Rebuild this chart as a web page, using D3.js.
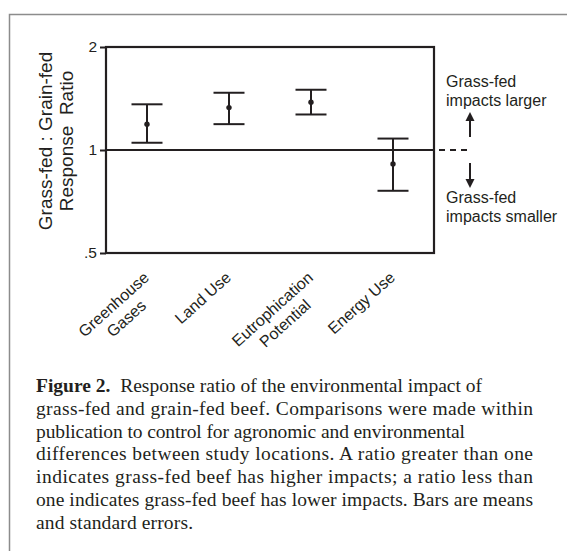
<!DOCTYPE html>
<html>
<head>
<meta charset="utf-8">
<script src="https://cdn.jsdelivr.net/npm/d3@7"></script>
<style>
  body { margin: 0; background: #fff; }
  svg { display: block; }
</style>
</head>
<body>
<svg></svg>
<script>
// chart values
var categories = ["Greenhouse Gases", "Land Use", "Eutrophication Potential", "Energy Use"];
var labelLines = [["Greenhouse", "Gases"], ["Land Use"], ["Eutrophication", "Potential"], ["Energy Use"]];
var means = [1.19, 1.33, 1.38, 0.91];
var lower = [1.05, 1.19, 1.27, 0.76];
var upper = [1.36, 1.47, 1.50, 1.08];
var yTicks = [0.5, 1, 2];
var yTickLabels = [".5", "1", "2"];
var captionLines = [
  "Response ratio of the environmental impact of",
  "grass-fed and grain-fed beef. Comparisons were made within",
  "publication to control for agronomic and environmental",
  "differences between study locations. A ratio greater than one",
  "indicates grass-fed beef has higher impacts; a ratio less than",
  "one indicates grass-fed beef has lower impacts. Bars are means",
  "and standard errors."
];
// measured width of each caption line in the figure
var captionWidths = [446, 497, 429, 497, 497, 497, 157];

var width = 567, height = 551;
var ink = "#231f20";
var sans = "'Liberation Sans', Arial, sans-serif";
var serif = "'Liberation Serif', 'Times New Roman', serif";

var svg = d3.select("svg")
    .attr("width", width)
    .attr("height", height);

// outer box (open on right and bottom, cropped)
svg.append("path")
    .attr("d", "M9.5," + height + "V14.5H" + width)
    .attr("fill", "none")
    .attr("stroke", "#8c8c8c")
    .attr("stroke-width", 1.5);

var plot = {left: 106, right: 434, top: 47, bottom: 253};

var x = d3.scalePoint()
    .domain(categories)
    .range([plot.left, plot.right])
    .padding(0.5);

var y = d3.scaleLog()
    .domain([0.5, 2])
    .range([plot.bottom, plot.top]);

// y axis ticks
var yAxis = d3.axisLeft(y)
    .tickValues(yTicks)
    .tickFormat(function(d, i) { return yTickLabels[i]; })
    .tickSize(6)
    .tickSizeOuter(0)
    .tickPadding(3);

var ga = svg.append("g")
    .attr("transform", "translate(" + plot.left + ",0)")
    .call(yAxis);
ga.select(".domain").remove();
ga.selectAll("line").attr("stroke", ink).attr("stroke-width", 2);
ga.selectAll("text")
    .attr("fill", ink)
    .style("font-family", sans)
    .style("font-size", "15.5px");

// frame
svg.append("rect")
    .attr("x", plot.left)
    .attr("y", plot.top)
    .attr("width", plot.right - plot.left)
    .attr("height", plot.bottom - plot.top)
    .attr("fill", "none")
    .attr("stroke", ink)
    .attr("stroke-width", 2.2);

// reference line at 1
svg.append("line")
    .attr("x1", plot.left).attr("x2", plot.right)
    .attr("y1", y(1)).attr("y2", y(1))
    .attr("stroke", ink).attr("stroke-width", 2.2);
svg.append("line")
    .attr("x1", plot.right + 5).attr("x2", plot.right + 35)
    .attr("y1", y(1)).attr("y2", y(1))
    .attr("stroke", ink).attr("stroke-width", 2)
    .attr("stroke-dasharray", "6,5");

// error bars
var bars = svg.append("g").selectAll("g")
    .data(categories)
    .enter().append("g");

var cap = 15.5;
bars.append("line")
    .attr("x1", function(d) { return x(d); })
    .attr("x2", function(d) { return x(d); })
    .attr("y1", function(d, i) { return y(lower[i]); })
    .attr("y2", function(d, i) { return y(upper[i]); })
    .attr("stroke", ink).attr("stroke-width", 2);
bars.append("line")
    .attr("x1", function(d) { return x(d) - cap; })
    .attr("x2", function(d) { return x(d) + cap; })
    .attr("y1", function(d, i) { return y(upper[i]); })
    .attr("y2", function(d, i) { return y(upper[i]); })
    .attr("stroke", ink).attr("stroke-width", 2);
bars.append("line")
    .attr("x1", function(d) { return x(d) - cap; })
    .attr("x2", function(d) { return x(d) + cap; })
    .attr("y1", function(d, i) { return y(lower[i]); })
    .attr("y2", function(d, i) { return y(lower[i]); })
    .attr("stroke", ink).attr("stroke-width", 2);
bars.append("circle")
    .attr("cx", function(d) { return x(d); })
    .attr("cy", function(d, i) { return y(means[i]); })
    .attr("r", 2.7)
    .attr("fill", ink);

// category labels, rotated
var angle = -42;
var lh = 19;
bars.each(function(d, i) {
  var g = d3.select(this).append("g")
      .attr("transform", "translate(" + (x(d) + 3) + "," + (plot.bottom + 26) + ") rotate(" + angle + ")");
  var t = g.append("text")
      .attr("fill", ink)
      .style("font-family", sans)
      .style("font-size", "16px")
      .attr("text-anchor", "middle");
  labelLines[i].forEach(function(s, j) {
    t.append("tspan").attr("x", 0).attr("y", j * lh).text(s);
  });
  var w = t.select("tspan").node().getComputedTextLength();
  t.attr("transform", "translate(" + (-w / 2) + ",0)");
});

// y axis title
var yt = svg.append("text")
    .attr("transform", "translate(52," + (y(1) - 9) + ") rotate(-90)")
    .attr("text-anchor", "middle")
    .attr("fill", ink)
    .style("font-family", sans)
    .style("font-size", "19px");
yt.append("tspan").attr("x", 0).attr("y", 0).text("Grass-fed : Grain-fed");
yt.append("tspan").attr("x", 0).attr("y", 21).style("white-space", "pre").text("Response  Ratio");

// side annotations with arrows
var ax = 470;
var side = svg.append("g")
    .attr("fill", ink)
    .style("font-family", sans)
    .style("font-size", "16px");
side.append("text").attr("x", 446).attr("y", 87).text("Grass-fed");
side.append("text").attr("x", 446).attr("y", 106).text("impacts larger");
side.append("text").attr("x", 446).attr("y", 203).text("Grass-fed");
side.append("text").attr("x", 446).attr("y", 222).text("impacts smaller");

svg.append("line")
    .attr("x1", ax).attr("x2", ax)
    .attr("y1", y(1) - 13).attr("y2", y(1) - 31)
    .attr("stroke", ink).attr("stroke-width", 2);
svg.append("path")
    .attr("d", "M" + ax + "," + (y(1) - 38) + "l-4.5,9h9z")
    .attr("fill", ink);
svg.append("line")
    .attr("x1", ax).attr("x2", ax)
    .attr("y1", y(1) + 13).attr("y2", y(1) + 31)
    .attr("stroke", ink).attr("stroke-width", 2);
svg.append("path")
    .attr("d", "M" + ax + "," + (y(1) + 38) + "l-4.5,-9h9z")
    .attr("fill", ink);

// caption
var cap0 = 392, capStep = 22.8;
var capText = svg.append("g")
    .attr("fill", ink)
    .style("font-family", serif)
    .style("font-size", "19.5px");
captionLines.forEach(function(s, i) {
  var t = capText.append("text")
      .attr("x", 36)
      .attr("y", cap0 + i * capStep)
      .attr("textLength", captionWidths[i])
      .attr("lengthAdjust", "spacing")
      .style("white-space", "pre");
  if (i === 0) {
    t.append("tspan").style("font-weight", "bold").text("Figure 2.");
    t.append("tspan").text("  " + s);
  } else {
    t.text(s);
  }
});
</script>
</body>
</html>
